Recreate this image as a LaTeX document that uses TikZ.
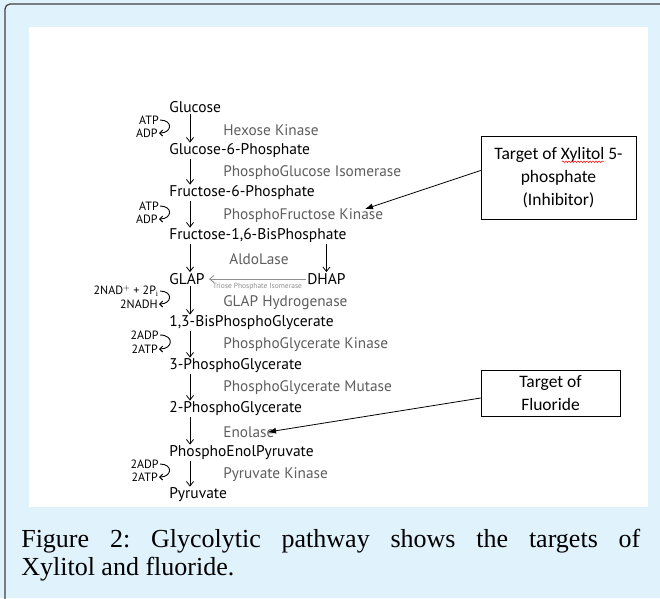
\documentclass[tikz,border=0pt]{standalone}
\usepackage{fontspec}
\setmainfont{Liberation Serif}
\newfontfamily\pathfont{PT Sans}
\newfontfamily\boxfont{Carlito}
\usetikzlibrary{arrows.meta,decorations.pathmorphing}
\definecolor{panelblue}{HTML}{E0F2FB}
\definecolor{enzgray}{HTML}{5E5E5E}
\definecolor{isogray}{HTML}{8E8E8E}
\frenchspacing
\tikzset{
every picture/.style={
line width=0.6pt
},
met/.style={anchor=west, inner sep=1pt, font=\pathfont\fontsize{15.5}{16}\selectfont},
enz/.style={anchor=west, inner sep=1pt, text=enzgray, font=\pathfont\fontsize{15.3}{16}\selectfont},
cof/.style={anchor=east, inner sep=1pt, font=\pathfont\fontsize{12}{12}\selectfont},
downarr/.style={-{Straight Barb[length=4.5pt,width=7pt]}, line width=0.8pt},
cofarr/.style={-{Straight Barb[length=3pt,width=6pt]}, line width=0.9pt},
target/.style={draw, line width=0.6pt, inner sep=0pt, align=center, font=\boxfont\fontsize{17.5}{23}\selectfont},
pointer/.style={-{Latex[length=8pt,width=6pt]}, line width=0.8pt},
squiggle/.style={red, line width=0.5pt, decorate, decoration={snake, segment length=3pt, amplitude=0.8pt}}
}

\begin{document}
\begin{tikzpicture}[x=1pt, y=-1pt]
\useasboundingbox (0,0) rectangle (660,598);
\clip (0,0) rectangle (660,598);
% page frame and figure panel
\fill[panelblue] (0,0) rectangle (660,598);
\draw[black!75, line width=1.2pt, rounded corners=5pt] (5,4) rectangle (690,630);
\fill[white] (29,27) rectangle (648,507);

% metabolites
\foreach \y/\name/\txt in {107/glc/Glucose, 151/gsp/Glucose-6-Phosphate, 193/fsp/Fructose-6-Phosphate,
  236/fbp/{Fructose-1,6-BisPhosphate}, 279/glap/GLAP, 323/bpg/{1,3-BisPhosphoGlycerate},
  366/tpg/3-PhosphoGlycerate, 409/dpg/2-PhosphoGlycerate, 453/pep/PhosphoEnolPyruvate, 495/pyr/Pyruvate}{
  \node[met] (\name) at (168,\y) {\txt};
}
\node[met] (dhap) at (306,279) {DHAP};

% enzymes
\foreach \y/\name/\txt in {130/hk/Hexose Kinase, 173/pgi/PhosphoGlucose Isomerase, 216/pfk/PhosphoFructose Kinase,
  303/gapdh/GLAP Hydrogenase, 345/pgk/PhosphoGlycerate Kinase, 388/pgm/PhosphoGlycerate Mutase,
  432/eno/Enolase, 475/pk/Pyruvate Kinase}{
  \node[enz] (\name) at (222,\y) {\txt};
}
\node[enz] (ald) at (228,259) {AldoLase};

% main chain
\foreach \a/\b in {glc/gsp, gsp/fsp, fsp/fbp, fbp/glap, glap/bpg, bpg/tpg, tpg/dpg, dpg/pep, pep/pyr}{
  \draw[downarr] ([xshift=22pt]\a.south west) -- ([xshift=22pt]\b.north west);
}
\draw[downarr] (fbp.south -| dhap) -- (dhap.north);
\draw[downarr, isogray] (dhap.west) -- ([xshift=3pt]glap.east)
  node[midway, below=4pt, inner sep=0pt, text=isogray, font=\pathfont\fontsize{7.5}{8}\selectfont] (tpi) {Triose Phosphate Isomerase};

% cofactors
\foreach \ya/\yb/\ta/\tb [count=\i] in {120/133/ATP/ADP, 206/219/ATP/ADP, 291/304/{2NAD$^{+}$ + 2P$_{\mathrm{i}}$}/2NADH,
  335/349/2ADP/2ATP, 464/477/2ADP/2ATP}{
  \node[cof] (ca\i) at (160,\ya) {\ta};
  \node[cof] (cb\i) at (159,\yb) {\tb};
  \draw[cofarr] (ca\i.east) to[out=0, in=0, looseness=2.6] (cb\i.east);
}

% targets
\node[target, minimum width=155pt, minimum height=83pt] (xyl) at (558.5,177.5)
  {Target of Xylitol 5-\\phosphate\\(Inhibitor)};
\draw[squiggle] ([shift={(3.5,26)}]xyl.north) -- ([shift={(45.5,26)}]xyl.north);
\node[target, minimum width=139pt, minimum height=46pt] (flu) at (550.5,393) {Target of\\Fluoride};
\draw[pointer] ([yshift=7pt]xyl.west) -- ([xshift=143pt,yshift=7pt]pfk.west);
\draw[pointer] ([yshift=-5pt]flu.west) -- ([xshift=46pt]eno.west);

% caption
\node[anchor=north west, inner sep=0pt, text width=619pt, align=justify,
  font=\fontsize{26}{28}\selectfont] (cap) at (21,529)
  {Figure 2: Glycolytic pathway shows the targets of\linebreak Xylitol and fluoride.};
\end{tikzpicture}
\end{document}
